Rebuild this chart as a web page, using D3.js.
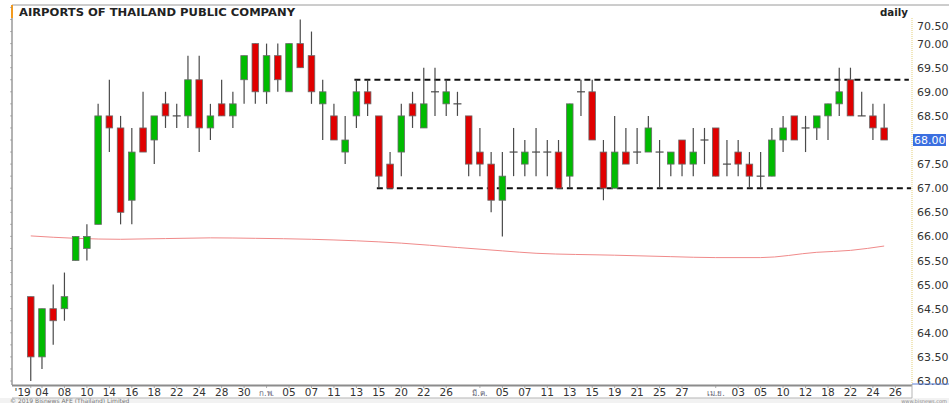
<!DOCTYPE html>
<html>
<head>
<meta charset="utf-8">
<script src="https://cdn.jsdelivr.net/npm/d3@7"></script>
<style>
  body { margin: 0; background: #fff; }
  svg { display: block; }
  text { font-family: "DejaVu Sans", sans-serif; fill: #333; }
</style>
</head>
<body>
<div id="chart"></div>
<script>
// daily candles, AOT Jan - Apr 2019
const open  = [64.75,63.5,64.5,64.5,65.5,65.75,66.25,68.5,68.25,66.75,68.25,68.0,68.75,68.5,68.5,69.25,68.25,68.75,68.5,69.25,
               70.0,69.0,69.75,69.0,70.0,69.75,68.75,68.5,67.75,68.5,69.0,68.5,67.5,67.75,68.75,68.25,69.0,68.75,68.75,68.5,
               67.75,67.5,66.75,67.75,67.5,67.75,67.75,67.75,67.25,69.0,69.0,67.75,67.0,67.75,67.75,67.75,67.75,67.5,68.0,67.5,
               68.0,68.25,67.5,67.75,67.5,67.25,67.25,68.0,68.5,68.25,68.25,68.5,68.75,69.25,68.5,68.5,68.25]
const high  = [64.75,64.5,65.0,65.25,66.0,66.25,68.75,69.25,68.5,68.25,69.0,68.5,69.0,68.75,69.75,69.75,68.75,69.25,69.0,69.75,
               70.0,70.0,70.0,70.0,70.5,70.25,69.25,68.75,68.5,69.25,69.25,68.5,67.75,68.75,69.0,69.5,69.5,69.25,69.0,68.5,
               68.25,67.75,67.75,68.25,68.0,68.25,68.0,68.0,68.75,69.25,69.25,68.0,68.5,68.25,68.25,68.5,68.0,67.75,68.0,68.25,
               68.25,68.25,68.0,68.0,67.75,67.75,68.25,68.5,68.5,68.5,68.5,68.75,69.5,69.5,69.0,68.75,68.75]
const low   = [63.0,63.25,63.75,64.25,65.5,65.5,66.25,67.75,66.25,66.25,67.75,67.5,68.25,68.25,68.25,67.75,68.0,68.5,68.25,68.75,
               68.75,68.75,69.0,69.0,69.5,68.75,68.0,68.0,67.5,68.25,68.5,67.0,67.0,67.25,68.25,68.25,68.5,68.5,68.5,67.25,
               67.25,66.5,66.0,67.25,67.25,67.25,67.25,67.0,67.0,68.5,68.0,66.75,67.0,67.5,67.5,67.75,67.0,67.25,67.25,67.25,
               67.5,67.25,67.25,67.25,67.0,67.0,67.25,67.75,68.0,67.75,68.0,68.0,68.5,68.5,68.5,68.0,68.0]
const close = [63.5,64.5,64.25,64.75,66.0,66.0,68.5,68.25,66.5,67.75,67.75,68.5,68.5,68.5,69.25,68.25,68.5,68.5,68.75,69.75,
               69.0,69.75,69.25,70.0,69.5,69.0,69.0,68.0,68.0,69.0,68.75,67.25,67.0,68.5,68.5,68.75,69.0,69.0,68.75,67.5,
               67.5,66.75,67.25,67.75,67.75,67.75,67.75,67.0,68.75,69.0,68.0,67.0,67.75,67.5,67.75,68.25,67.75,67.75,67.5,67.75,
               68.0,67.25,67.5,67.5,67.25,67.25,68.0,68.25,68.0,68.25,68.5,68.75,69.0,68.5,68.5,68.25,68.0]

// moving average (read at these candles)
const maIdx = [0, 4, 8, 16, 20, 25, 33, 38, 42, 45, 52, 57, 61, 65, 70, 73, 76]
const maVal = [66.01, 65.96, 65.94, 65.97, 65.96, 65.94, 65.86, 65.77, 65.70, 65.65, 65.61, 65.58, 65.56, 65.56, 65.67, 65.71, 65.80]

// support / resistance lines: level, first candle, last slot
const levels = [[69.25, 29, 78.2], [67.0, 31, 78.4]]

// x tick labels at candle index
const tickLabels = ["'19","04","08","10","14","16","18","22","24","28","30","ก.พ.","05","07","11","13","15","20","22","26",
                    "มี.ค.","05","07","11","13","15","19","21","25","27","เม.ย.","03","05","10","12","18","22","24","26"]
const tickIdx    = [0,1,3,5,7,9,11,13,15,17,19,21,23,25,27,29,31,33,35,37,
                    40,42,44,46,48,50,52,54,56,58,61,63,65,67,69,71,73,75,77]
const months = ["ก.พ.","มี.ค.","เม.ย."]

const priceTicks = d3.range(63, 70.51, 0.5)
const lastPrice = 68.0

const W = 949, H = 403
const plotL = 12, plotR = 912, plotT = 5, plotB = 385

const svg = d3.select("#chart").append("svg")
  .attr("width", W).attr("height", H)

const x = d3.scaleLinear().domain([-1.67, 78.48]).range([plotL, plotR])
const y = d3.scaleLinear().domain([63, 68]).range([381, 140])

const data = open.map((o, i) => ({ i, o, h: high[i], l: low[i], c: close[i] }))

// frame
svg.append("rect").attr("x", 0).attr("y", 398).attr("width", W).attr("height", 5).attr("fill", "#f2f2f2")
svg.append("line").attr("x1", plotL).attr("x2", W).attr("y1", plotT).attr("y2", plotT)
  .attr("stroke", "#9a9a9a").attr("stroke-width", 1)
svg.append("line").attr("x1", plotL).attr("x2", plotL).attr("y1", plotT).attr("y2", plotB)
  .attr("stroke", "#666").attr("stroke-width", 1)
svg.append("rect").attr("x", plotL - 1).attr("y", plotT).attr("width", 2).attr("height", 13).attr("fill", "#f39a1e")
svg.selectAll(".lt").data(d3.range(63, 70.76, 0.25)).join("line")
  .attr("x1", plotL - 2).attr("x2", plotL).attr("y1", d => y(d)).attr("y2", d => y(d))
  .attr("stroke", "#888").attr("stroke-width", 0.6)

// right price axis (current price gets its own marker)
svg.append("line").attr("x1", plotR).attr("x2", plotR).attr("y1", 18).attr("y2", plotB)
  .attr("stroke", "#e3cf7a").attr("stroke-dasharray", "1,1")
const yAxis = svg.append("g").attr("transform", `translate(${plotR},0)`)
  .call(d3.axisRight(y).tickValues(priceTicks.filter(d => d !== lastPrice))
    .tickFormat(d3.format(".2f")).tickSize(0).tickPadding(5))
yAxis.select(".domain").remove()
yAxis.selectAll("text").attr("font-size", 11).attr("font-family", "DejaVu Sans").attr("fill", "#333")
  .attr("dy", d => d >= 70.5 ? "0.9em" : "0.32em")
svg.append("line").attr("x1", plotR).attr("x2", W).attr("y1", plotB - 1).attr("y2", plotB - 1)
  .attr("stroke", "#5a7fd6").attr("stroke-width", 1)

// current price marker
svg.append("rect").attr("x", plotR + 1).attr("y", y(lastPrice) - 6).attr("width", 33).attr("height", 12)
  .attr("fill", "#3b6fe0")
svg.append("text").attr("x", plotR + 2).attr("y", y(lastPrice)).attr("dy", "0.35em")
  .attr("font-size", 11).style("fill", "#fff").text(d3.format(".2f")(lastPrice))

// moving average
svg.append("path")
  .datum(maIdx.map((d, k) => [d, maVal[k]]))
  .attr("fill", "none").attr("stroke", "#f08a8a").attr("stroke-width", 1)
  .attr("d", d3.line().x(d => x(d[0])).y(d => y(d[1])).curve(d3.curveMonotoneX))

// dashed levels
svg.selectAll(".lvl").data(levels).join("line")
  .attr("x1", d => x(d[1]) - 2).attr("x2", d => x(d[2]))
  .attr("y1", d => y(d[0])).attr("y2", d => y(d[0]))
  .attr("stroke", "#111").attr("stroke-width", 2).attr("stroke-dasharray", "6,4")

// candles
const bw = 6.6
const g = svg.append("g")
g.selectAll(".wick").data(data).join("line")
  .attr("x1", d => x(d.i)).attr("x2", d => x(d.i))
  .attr("y1", d => y(d.h)).attr("y2", d => y(d.l))
  .attr("stroke", "#4a4a4a").attr("stroke-width", 1.2)
g.selectAll(".body").data(data.filter(d => d.o !== d.c)).join("rect")
  .attr("x", d => x(d.i) - bw / 2).attr("width", bw)
  .attr("y", d => y(Math.max(d.o, d.c)))
  .attr("height", d => y(Math.min(d.o, d.c)) - y(Math.max(d.o, d.c)))
  .attr("fill", d => d.c > d.o ? "#00bb00" : "#e00000")
  .attr("stroke", "#6a6a6a").attr("stroke-width", 0.8)
g.selectAll(".doji").data(data.filter(d => d.o === d.c)).join("line")
  .attr("x1", d => x(d.i) - 4).attr("x2", d => x(d.i) + 4)
  .attr("y1", d => y(d.o)).attr("y2", d => y(d.o))
  .attr("stroke", "#4a4a4a").attr("stroke-width", 1.2)

// x axis band
svg.append("line").attr("x1", plotL).attr("x2", plotR).attr("y1", plotB + 0.5).attr("y2", plotB + 0.5)
  .attr("stroke", "#8c8c8c").attr("stroke-width", 2)
svg.append("line").attr("x1", plotL).attr("x2", plotR).attr("y1", 398).attr("y2", 398)
  .attr("stroke", "#b5b5b5").attr("stroke-width", 1)
svg.append("line").attr("x1", plotR).attr("x2", plotR).attr("y1", plotB).attr("y2", 398)
  .attr("stroke", "#b5b5b5").attr("stroke-width", 1)
svg.selectAll(".xt").data(tickIdx).join("line")
  .attr("x1", d => x(d)).attr("x2", d => x(d)).attr("y1", plotB + 1).attr("y2", plotB + 3)
  .attr("stroke", "#999").attr("stroke-width", 0.8)
svg.selectAll(".xl").data(tickIdx).join("text")
  .attr("x", d => x(d))
  .attr("y", 396)
  .attr("text-anchor", (d, k) => k === 0 ? "end" : "middle")
  .attr("font-size", (d, k) => months.includes(tickLabels[k]) ? 8 : 10.5)
  .style("fill", (d, k) => months.includes(tickLabels[k]) ? "#667" : "#333")
  .text((d, k) => tickLabels[k])

// titles
svg.append("text").attr("x", 19).attr("y", 16)
  .attr("font-family", "Liberation Sans").attr("font-weight", "bold").attr("font-size", 11)
  .attr("textLength", 276).attr("lengthAdjust", "spacingAndGlyphs")
  .style("fill", "#222").text("AIRPORTS OF THAILAND PUBLIC COMPANY")
svg.append("text").attr("x", 880).attr("y", 16)
  .attr("font-family", "Liberation Sans").attr("font-weight", "bold").attr("font-size", 11)
  .attr("textLength", 28).attr("lengthAdjust", "spacingAndGlyphs")
  .style("fill", "#222").text("daily")

// credits
svg.append("text").attr("x", 10).attr("y", 403).attr("font-size", 6).style("fill", "#777")
  .text("© 2019 Bisnews AFE (Thailand) Limited")
svg.append("text").attr("x", W - 2).attr("y", 403).attr("text-anchor", "end").attr("font-size", 5).style("fill", "#888")
  .text("www.bisnews.com")
</script>
</body>
</html>
